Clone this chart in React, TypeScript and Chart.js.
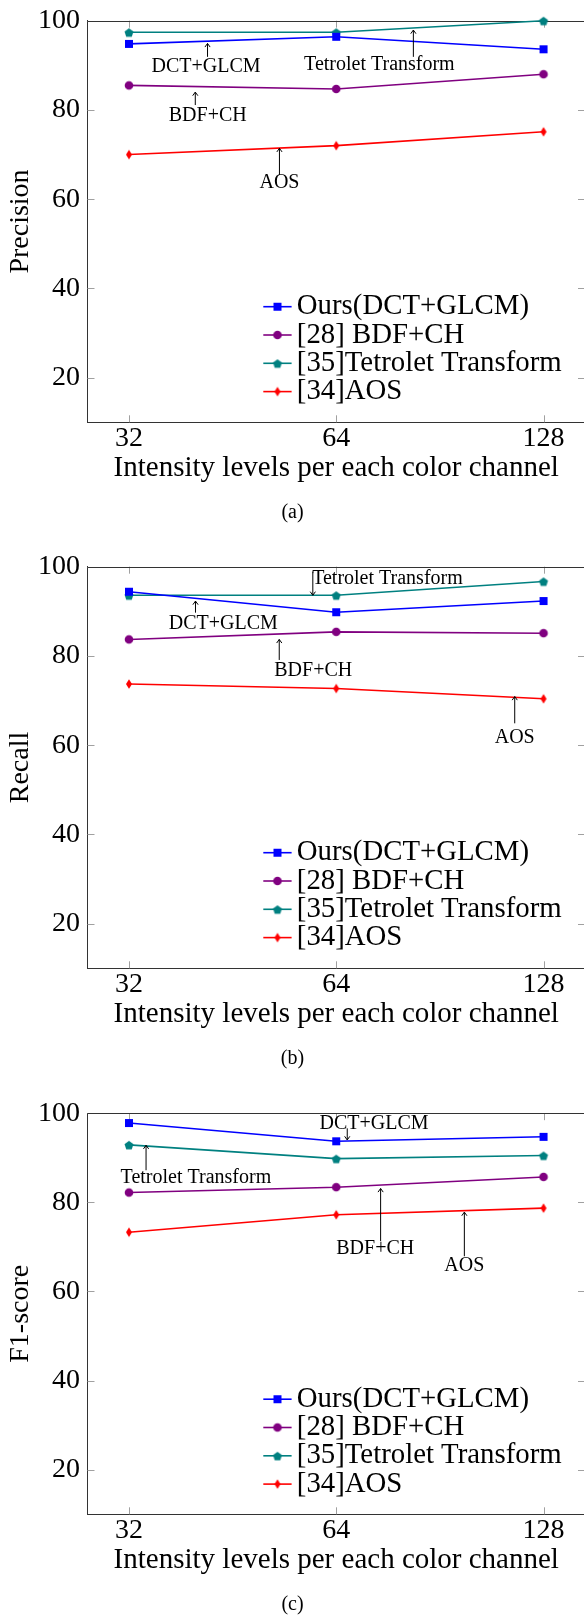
import React, { useEffect, useRef } from 'react';
import { Chart, registerables } from 'chart.js';

Chart.register(...registerables);

const FONT = "'Liberation Serif', 'Times New Roman', serif";

// ---------- data ----------
const categories = ['32', '64', '128'];
const categoryIndex = [0, 1, 2];

const seriesNames = ['Ours(DCT+GLCM)', '[28] BDF+CH', '[35]Tetrolet Transform', '[34]AOS'];
const seriesColors = ['#0000ff', '#800080', '#008080', '#ff0000'];
const seriesMarkers = ['square', 'circle', 'pentagon', 'diamond'];

const precisionOurs = [94.8, 96.4, 93.6];
const precisionBdf = [85.5, 84.7, 88.0];
const precisionTetrolet = [97.4, 97.4, 100];
const precisionAos = [70.0, 72.0, 75.1];

const recallOurs = [94.4, 89.8, 92.3];
const recallBdf = [83.7, 85.4, 85.1];
const recallTetrolet = [93.6, 93.6, 96.7];
const recallAos = [73.7, 72.7, 70.4];

const f1Ours = [97.8, 93.7, 94.7];
const f1Bdf = [82.2, 83.4, 85.7];
const f1Tetrolet = [92.9, 89.8, 90.5];
const f1Aos = [73.3, 77.2, 78.7];

const yTickValues = [20, 40, 60, 80, 100];
const yMin = 10;
const yMax = 100;
const xMin = -0.2;
const xMax = 2.2;

const xTitle = 'Intensity levels per each color channel';

// annotations in data coordinates (text position, arrow x, arrow from -> to)
type Note = { text: string; tx: number; ty: number; ax: number; from: number; to: number };

const precisionNotes: Note[] = [
  { text: 'DCT+GLCM', tx: 0.372, ty: 89.6, ax: 0.379, from: 91.9, to: 94.9 },
  { text: 'Tetrolet Transform', tx: 1.208, ty: 90.2, ax: 1.372, from: 91.9, to: 97.9 },
  { text: 'BDF+CH', tx: 0.38, ty: 78.8, ax: 0.32, from: 81.1, to: 84.0 },
  { text: 'AOS', tx: 0.726, ty: 63.7, ax: 0.726, from: 65.4, to: 71.4 },
];

const recallNotes: Note[] = [
  { text: 'Tetrolet Transform', tx: 1.247, ty: 97.4, ax: 0.887, from: 98.9, to: 93.6 },
  { text: 'DCT+GLCM', tx: 0.455, ty: 87.3, ax: 0.321, from: 89.7, to: 92.3 },
  { text: 'BDF+CH', tx: 0.889, ty: 76.7, ax: 0.725, from: 79.1, to: 83.7 },
  { text: 'AOS', tx: 1.861, ty: 61.6, ax: 1.861, from: 64.9, to: 70.9 },
];

const f1Notes: Note[] = [
  { text: 'DCT+GLCM', tx: 1.182, ty: 97.7, ax: 1.053, from: 96.6, to: 94.0 },
  { text: 'Tetrolet Transform', tx: 0.323, ty: 85.6, ax: 0.0825, from: 87.2, to: 92.8 },
  { text: 'BDF+CH', tx: 1.188, ty: 69.6, ax: 1.214, from: 71.3, to: 83.1 },
  { text: 'AOS', tx: 1.618, ty: 65.8, ax: 1.618, from: 67.9, to: 77.8 },
];

const panels = [
  { yTitle: 'Precision', caption: '(a)', series: [precisionOurs, precisionBdf, precisionTetrolet, precisionAos], notes: precisionNotes, top: 0, padTop: 20.7 },
  { yTitle: 'Recall', caption: '(b)', series: [recallOurs, recallBdf, recallTetrolet, recallAos], notes: recallNotes, top: 546, padTop: 20.7 },
  { yTitle: 'F1-score', caption: '(c)', series: [f1Ours, f1Bdf, f1Tetrolet, f1Aos], notes: f1Notes, top: 1092, padTop: 21.2 },
];

// ---------- helpers ----------
function makeMarker(shape: string, color: string): HTMLCanvasElement {
  const c = document.createElement('canvas');
  c.width = 14;
  c.height = 14;
  const g = c.getContext('2d')!;
  g.fillStyle = color;
  const cx = 7;
  const cy = 7;
  g.beginPath();
  if (shape === 'square') {
    g.rect(cx - 4, cy - 4, 8, 8);
  } else if (shape === 'circle') {
    g.arc(cx, cy, 4.3, 0, Math.PI * 2);
  } else if (shape === 'pentagon') {
    const r = 4.7;
    for (let k = 0; k < 5; k++) {
      const ang = -Math.PI / 2 + (k * 2 * Math.PI) / 5;
      const px = cx + r * Math.cos(ang);
      const py = cy + 0.6 + r * Math.sin(ang);
      if (k === 0) g.moveTo(px, py);
      else g.lineTo(px, py);
    }
    g.closePath();
  } else {
    g.moveTo(cx, cy - 4.7);
    g.lineTo(cx + 3, cy);
    g.lineTo(cx, cy + 4.7);
    g.lineTo(cx - 3, cy);
    g.closePath();
  }
  g.fill();
  return c;
}

function zeroPadding(s: any) {
  s.paddingLeft = 0;
  s.paddingRight = 0;
  s.paddingTop = 0;
  s.paddingBottom = 0;
}

type PanelCfg = (typeof panels)[number];

function Panel({ cfg }: { cfg: PanelCfg }) {
  const ref = useRef<HTMLCanvasElement>(null);

  useEffect(() => {
    const canvas = ref.current;
    if (!canvas) return;
    const markers = seriesMarkers.map((m, i) => makeMarker(m, seriesColors[i]));

    const decor = {
      id: 'decor',
      beforeDatasetsDraw(chart: any) {
        const { ctx, chartArea: a, scales } = chart;
        ctx.save();
        ctx.strokeStyle = '#a0a0a0';
        ctx.lineWidth = 1;
        ctx.beginPath();
        for (const v of yTickValues) {
          const py = Math.round(scales.y.getPixelForValue(v)) + 0.5;
          ctx.moveTo(a.left, py);
          ctx.lineTo(a.left + 7, py);
          ctx.moveTo(a.right - 7, py);
          ctx.lineTo(a.right, py);
        }
        for (const v of categoryIndex) {
          const px = Math.round(scales.x.getPixelForValue(v)) + 0.5;
          ctx.moveTo(px, a.top);
          ctx.lineTo(px, a.top + 7);
          ctx.moveTo(px, a.bottom - 7);
          ctx.lineTo(px, a.bottom);
        }
        ctx.stroke();
        ctx.strokeStyle = '#333';
        ctx.beginPath();
        const ty = Math.round(a.top) + 0.5;
        ctx.moveTo(a.left, ty);
        ctx.lineTo(a.right, ty);
        ctx.moveTo(Math.round(a.right) - 0.5, a.top);
        ctx.lineTo(Math.round(a.right) - 0.5, a.bottom);
        ctx.stroke();
        ctx.restore();
      },
      afterDatasetsDraw(chart: any) {
        const { ctx, chartArea: a, scales } = chart;
        ctx.save();
        // annotations
        ctx.fillStyle = '#000';
        ctx.strokeStyle = '#000';
        ctx.lineWidth = 1;
        ctx.font = `20px ${FONT}`;
        ctx.textAlign = 'center';
        ctx.textBaseline = 'middle';
        for (const n of cfg.notes) {
          const px = scales.x.getPixelForValue(n.ax);
          const y1 = scales.y.getPixelForValue(n.from);
          const y2 = scales.y.getPixelForValue(n.to);
          const dir = Math.sign(y2 - y1);
          ctx.beginPath();
          ctx.moveTo(px, y1);
          ctx.lineTo(px, y2);
          ctx.moveTo(px - 2.6, y2 - dir * 3.6);
          ctx.lineTo(px, y2);
          ctx.lineTo(px + 2.6, y2 - dir * 3.6);
          ctx.stroke();
          ctx.fillText(n.text, scales.x.getPixelForValue(n.tx), scales.y.getPixelForValue(n.ty));
        }
        // legend
        ctx.font = `28.8px ${FONT}`;
        ctx.textAlign = 'left';
        ctx.textBaseline = 'middle';
        seriesNames.forEach((name, i) => {
          const ry = a.top + 286 + i * 28.3;
          ctx.strokeStyle = seriesColors[i];
          ctx.lineWidth = 1.6;
          ctx.beginPath();
          ctx.moveTo(263.3, ry);
          ctx.lineTo(291.6, ry);
          ctx.stroke();
          const m = markers[i];
          ctx.drawImage(m, 277.5 - m.width / 2, ry - m.height / 2);
          ctx.fillStyle = '#000';
          ctx.fillText(name, 296.8, ry);
        });
        ctx.restore();
      },
    };

    const datasets = seriesNames.map((name, i) => ({
      label: name,
      data: cfg.series[i].map((v, j) => ({ x: categoryIndex[j], y: v })),
      borderColor: seriesColors[i],
      backgroundColor: seriesColors[i],
      borderWidth: 1.6,
      pointStyle: markers[i],
      pointRadius: 5,
      pointHoverRadius: 5,
      tension: 0,
      fill: false,
      clip: false as any,
    }));

    const chart = new Chart(canvas, {
      type: 'line',
      data: { datasets: datasets as any },
      plugins: [decor],
      options: {
        animation: false,
        responsive: false,
        devicePixelRatio: 1,
        layout: { autoPadding: false, padding: { top: cfg.padTop, left: 0, right: 0, bottom: 0 } },
        plugins: {
          legend: { display: false },
          tooltip: { enabled: false },
          title: {
            display: true,
            text: cfg.caption,
            position: 'bottom',
            color: '#000',
            font: { family: FONT, size: 20, weight: 'normal' },
            padding: { top: 11, bottom: 21 },
          },
        },
        scales: {
          x: {
            type: 'linear',
            min: xMin,
            max: xMax,
            afterBuildTicks: (s: any) => {
              s.ticks = categoryIndex.map((v) => ({ value: v }));
            },
            afterFit: (s: any) => {
              s.height = 67.7;
              zeroPadding(s);
            },
            grid: { display: false, drawTicks: false },
            border: { display: true, color: '#333', width: 1 },
            ticks: {
              callback: (v: any) => categories[v] ?? '',
              color: '#000',
              font: { family: FONT, size: 28 },
              padding: 0,
              maxRotation: 0,
              autoSkip: false,
            },
            title: {
              display: true,
              text: xTitle,
              color: '#000',
              font: { family: FONT, size: 29 },
              padding: { top: 0, bottom: 4.5 },
            },
          },
          y: {
            type: 'linear',
            min: yMin,
            max: yMax,
            afterBuildTicks: (s: any) => {
              s.ticks = yTickValues.map((v) => ({ value: v }));
            },
            afterFit: (s: any) => {
              s.width = 87.5;
              zeroPadding(s);
            },
            grid: { display: false, drawTicks: false },
            border: { display: true, color: '#333', width: 1 },
            ticks: {
              color: '#000',
              font: { family: FONT, size: 28 },
              padding: 7.5,
            },
            title: {
              display: true,
              text: cfg.yTitle,
              color: '#000',
              font: { family: FONT, size: 28 },
              padding: { top: 3.5, bottom: 0 },
            },
          },
        },
      } as any,
    });
    return () => chart.destroy();
  }, [cfg]);

  return (
    <div style={{ position: 'absolute', left: 0, top: cfg.top, width: 585, height: 546 }}>
      <canvas ref={ref} width={585} height={546} style={{ width: 585, height: 546, display: 'block' }} />
    </div>
  );
}

export default function App() {
  return (
    <div
      style={{
        position: 'absolute',
        left: 0,
        top: 0,
        width: 584,
        height: 1616,
        overflow: 'hidden',
        background: '#fff',
      }}
    >
      {panels.map((p) => (
        <Panel key={p.caption} cfg={p} />
      ))}
    </div>
  );
}
